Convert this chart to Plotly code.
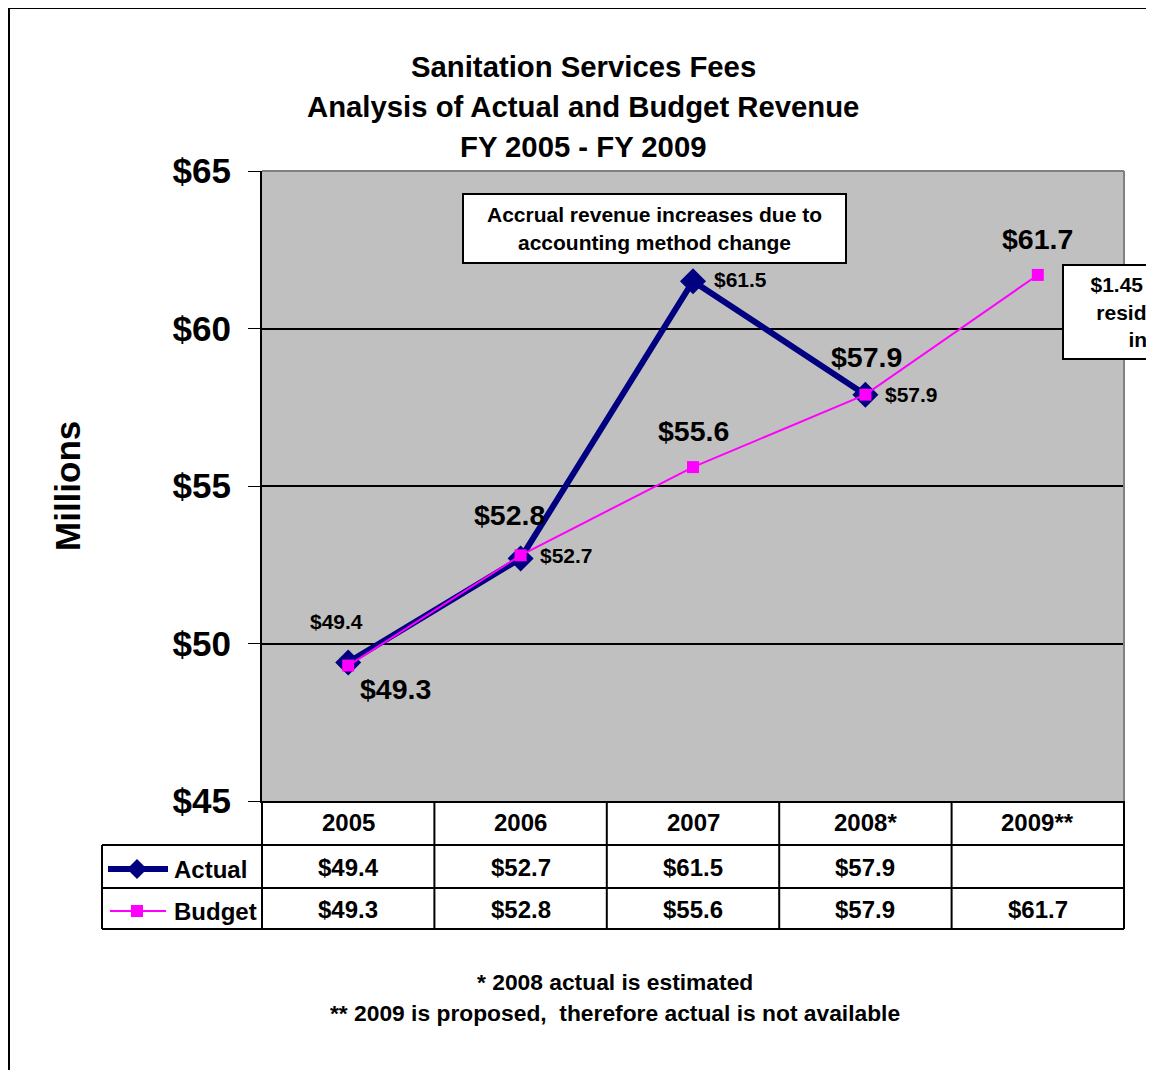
import plotly.graph_objects as go

# ---------------- data ----------------
years = ["2005", "2006", "2007", "2008*", "2009**"]
actual = [49.4, 52.7, 61.5, 57.9, None]
budget = [49.3, 52.8, 55.6, 57.9, 61.7]
y_ticks = [45, 50, 55, 60, 65]

title_lines = ["Sanitation Services Fees",
               "Analysis of Actual and Budget Revenue",
               "FY 2005 - FY 2009"]
note_text = "Accrual revenue increases due to<br>accounting method change"
rate_text = "$1.45 per month<br>residential rate<br>increase"
footnotes = ["* 2008 actual is estimated",
             "** 2009 is proposed,  therefore actual is not available"]

# ---------------- styling / layout constants ----------------
OFF = 8                      # page body margin in the browser
W, H = 1154 - OFF, 1078 - 2 * OFF
L = 262 - OFF
T = 171 - OFF
R = W - (1124 - OFF)
B = H - (801 - OFF)
PW = W - L - R
PH = H - T - B
FONT = "Liberation Sans, Arial, sans-serif"
NAVY = "#000080"
MAGENTA = "#FF00FF"

# label offsets (pixels) relative to each point
actual_off = [(-12, 41), (46, 3), (47, 2), (46, 0), (0, 0)]
budget_off = [(47, -23), (-11, 40), (0, 36), (1, 38), (0, 36)]


def px(x):
    """screen x -> paper x"""
    return (x - OFF - L) / PW


def py(y):
    """screen y -> paper y"""
    return (H - B - (y - OFF)) / PH


xs = list(range(len(years)))

fig = go.Figure()
fig.add_trace(go.Scatter(
    x=xs, y=actual, mode="lines+markers", name="Actual",
    line=dict(color=NAVY, width=6),
    marker=dict(symbol="diamond", size=20, color=NAVY),
    connectgaps=False, cliponaxis=False, hoverinfo="skip"))
fig.add_trace(go.Scatter(
    x=xs, y=budget, mode="lines+markers", name="Budget",
    line=dict(color=MAGENTA, width=2),
    marker=dict(symbol="square", size=12, color=MAGENTA),
    cliponaxis=False, hoverinfo="skip"))


def bold(s, c="black"):
    return dict(family=FONT, size=s, color=c, weight="bold")


ann = []
# title
for i, t in enumerate(title_lines):
    ann.append(dict(text=t, xref="paper", yref="paper", x=px(583), y=py(67 + 40 * i),
                    xanchor="center", yanchor="middle", showarrow=False, font=bold(29.3)))
# y title
ann.append(dict(text="Millions", textangle=-90, xref="paper", yref="paper",
                x=px(67), y=py(486), xanchor="center", yanchor="middle",
                showarrow=False, font=bold(35)))
# data labels
for i, v in enumerate(actual):
    if v is None:
        continue
    dx, dy = actual_off[i]
    ann.append(dict(text=f"${v:.1f}", x=xs[i], y=v, xref="x", yref="y", xshift=dx, yshift=dy,
                    showarrow=False, font=bold(21), xanchor="center", yanchor="middle"))
for i, v in enumerate(budget):
    dx, dy = budget_off[i]
    ann.append(dict(text=f"${v:.1f}", x=xs[i], y=v, xref="x", yref="y", xshift=dx, yshift=dy,
                    showarrow=False, font=bold(28.5), xanchor="center", yanchor="middle"))
# boxes
ann.append(dict(text=note_text, xref="paper", yref="paper", x=px(654.5), y=py(228.5),
                xanchor="center", yanchor="middle", showarrow=False, font=bold(21),
                bgcolor="white", bordercolor="black", borderwidth=2, borderpad=0,
                width=381, height=67))
ann.append(dict(text=rate_text, xref="paper", yref="paper", x=px(1062), y=py(312),
                xanchor="left", yanchor="middle", showarrow=False, font=bold(21),
                bgcolor="white", bordercolor="black", borderwidth=2, borderpad=0,
                width=214, height=92))
# data table text
for i, yr in enumerate(years):
    ann.append(dict(text=yr, x=xs[i], xref="x", y=py(822), yref="paper", showarrow=False,
                    font=bold(24), xanchor="center", yanchor="middle"))
    if actual[i] is not None:
        ann.append(dict(text=f"${actual[i]:.1f}", x=xs[i], xref="x", y=py(867), yref="paper",
                        showarrow=False, font=bold(24), xanchor="center", yanchor="middle"))
    if budget[i] is not None:
        ann.append(dict(text=f"${budget[i]:.1f}", x=xs[i], xref="x", y=py(909), yref="paper",
                        showarrow=False, font=bold(24), xanchor="center", yanchor="middle"))
for name, yy in (("Actual", 869), ("Budget", 911)):
    ann.append(dict(text=name, x=px(172), y=py(yy), xref="paper", yref="paper", showarrow=False,
                    font=bold(24), xanchor="left", yanchor="middle"))
# footnotes
for i, t in enumerate(footnotes):
    ann.append(dict(text=t, xref="paper", yref="paper", x=px(615), y=py(982 + 31 * i),
                    xanchor="center", yanchor="middle", showarrow=False, font=bold(22.8)))

shapes = []
line_k = dict(color="black", width=2)
# outer frame
shapes.append(dict(type="rect", xref="paper", yref="paper", x0=px(9), x1=px(1154 + 60),
                   y0=py(1078 + 60), y1=py(8), line=line_k))
# plot area gray top/right borders
shapes.append(dict(type="line", xref="paper", yref="paper", x0=0, x1=1, y0=1, y1=1,
                   line=dict(color="#808080", width=2)))
shapes.append(dict(type="line", xref="paper", yref="paper", x0=1, x1=1, y0=0, y1=1,
                   line=dict(color="#808080", width=2)))
# table lines
for yy in (845, 888, 929):
    shapes.append(dict(type="line", xref="paper", yref="paper", x0=px(102), x1=1,
                       y0=py(yy), y1=py(yy), line=line_k))
shapes.append(dict(type="line", xref="paper", yref="paper", x0=px(102), x1=px(102),
                   y0=py(845), y1=py(929), line=line_k))
n = len(years)
for k in range(n + 1):
    shapes.append(dict(type="line", xref="paper", yref="paper", x0=k / n, x1=k / n,
                       y0=py(801), y1=py(929), line=line_k))
# legend keys
shapes.append(dict(type="line", xref="paper", yref="paper", x0=px(108), x1=px(168),
                   y0=py(869), y1=py(869), line=dict(color=NAVY, width=6)))
shapes.append(dict(type="path", xref="paper", yref="paper", xsizemode="pixel", ysizemode="pixel",
                   xanchor=px(137), yanchor=py(869), path="M -10 0 L 0 -10 L 10 0 L 0 10 Z",
                   fillcolor=NAVY, line=dict(color=NAVY, width=0)))
shapes.append(dict(type="line", xref="paper", yref="paper", x0=px(110), x1=px(166),
                   y0=py(911), y1=py(911), line=dict(color=MAGENTA, width=2)))
shapes.append(dict(type="path", xref="paper", yref="paper", xsizemode="pixel", ysizemode="pixel",
                   xanchor=px(137), yanchor=py(911), path="M -6 -6 L 6 -6 L 6 6 L -6 6 Z",
                   fillcolor=MAGENTA, line=dict(color=MAGENTA, width=0)))

fig.update_layout(
    width=W, height=H, autosize=False,
    margin=dict(l=L, r=R, t=T, b=B, pad=0),
    paper_bgcolor="white", plot_bgcolor="#C0C0C0",
    showlegend=False,
    font=dict(family=FONT, color="black"),
    annotations=ann, shapes=shapes,
    xaxis=dict(range=[-0.5, n - 0.5], showticklabels=False, showgrid=False, zeroline=False,
               showline=True, linecolor="black", linewidth=2, ticks="", fixedrange=True),
    yaxis=dict(range=[y_ticks[0], y_ticks[-1]], tickvals=y_ticks,
               ticktext=[f"${v}" for v in y_ticks], tickfont=bold(35),
               ticks="outside", ticklen=12, tickcolor="black", tickwidth=1,
               ticklabelstandoff=10,
               showline=True, linecolor="black", linewidth=2,
               showgrid=True, gridcolor="black", gridwidth=1.5, zeroline=False,
               automargin=False, fixedrange=True),
)

fig.write_html("out.html")
